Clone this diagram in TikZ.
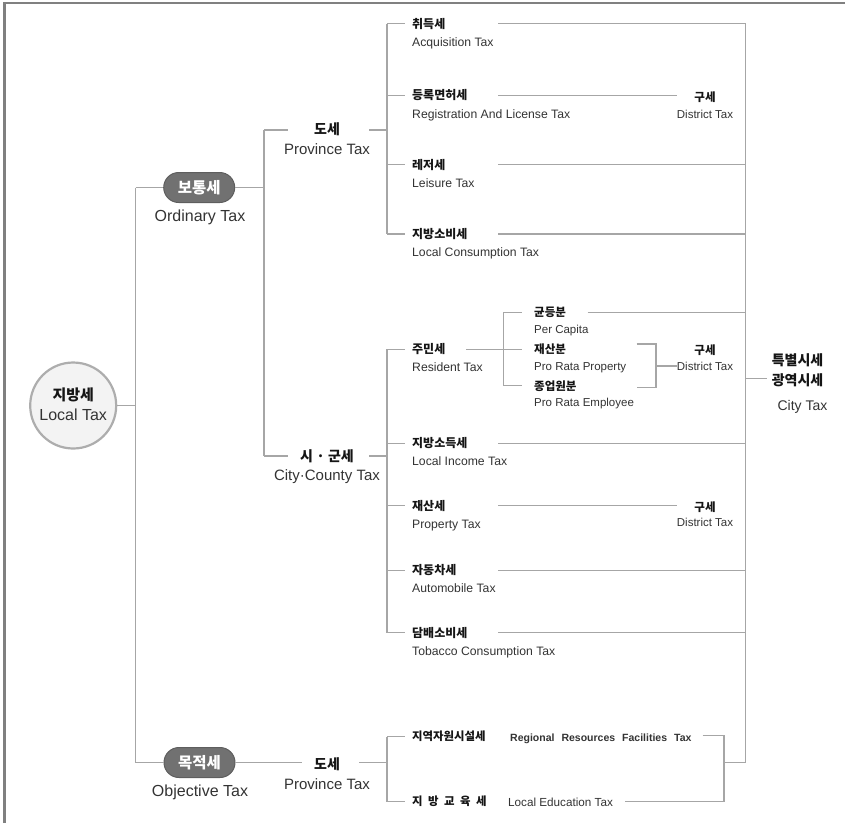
\documentclass[tikz,border=0pt]{standalone}
\usepackage{fontspec}
\setmainfont{Liberation Sans}
\newfontfamily\krf{Noto Sans CJK KR}
\usetikzlibrary{shapes.misc}
\definecolor{lineC}{HTML}{A6A6A6}
\definecolor{frameC}{HTML}{808080}
\definecolor{krC}{HTML}{151515}
\definecolor{enC}{HTML}{333333}
\definecolor{pillC}{HTML}{717171}
\definecolor{pillB}{HTML}{5E5E5E}
\definecolor{circC}{HTML}{F3F3F3}
\definecolor{circB}{HTML}{ADADAD}
\tikzset{
  ln/.style={draw=lineC, line width=1.3pt},
  framel/.style={draw=frameC, line width=2.2pt},
  krl/.style={font=\krf\bfseries\fontsize{12}{14}\selectfont, text=krC, anchor=west, inner sep=0pt},
  enl/.style={font=\fontsize{12.2}{14}\selectfont, text=enC, anchor=base west, inner sep=0pt},
  krs/.style={krl, font=\krf\bfseries\fontsize{11.5}{14}\selectfont},
  ens/.style={enl, font=\fontsize{11.5}{14}\selectfont},
  krc/.style={font=\krf\bfseries\fontsize{11.5}{14}\selectfont, text=krC, inner sep=0pt},
  enc/.style={font=\fontsize{11.5}{14}\selectfont, text=enC, anchor=base, inner sep=0pt},
  krb/.style={font=\krf\bfseries\fontsize{14}{16}\selectfont, text=krC, inner sep=0pt},
  enb/.style={font=\fontsize{15}{17}\selectfont, text=enC, anchor=base, inner sep=0pt},
  pill/.style={rounded rectangle, fill=pillC, draw=pillB, line width=1pt,
    minimum width=71pt, minimum height=30pt, inner sep=0pt, text=white,
    font=\krf\bfseries\fontsize{15.5}{17}\selectfont},
  circ/.style={circle, fill=circC, draw=circB, line width=2.2pt, minimum size=86pt, inner sep=0pt},
}
\begin{document}
\begin{tikzpicture}[x=1pt,y=-1pt]
\useasboundingbox (0,0) rectangle (845,823);
\draw[framel] (4.5,823) -- (4.5,2.7) -- (845,2.7);

% ---------- junction coordinates ----------
\coordinate (T0t) at (135.5,187.5);
\coordinate (T0m) at (135.5,405.5);
\coordinate (T0b) at (135.5,762.5);
\coordinate (T1t) at (264,130);
\coordinate (T1m) at (264,187.5);
\coordinate (T1b) at (264,456);
\coordinate (PX) at (387,0);
\coordinate (RT) at (745.5,0);
\coordinate (RTt) at (745.5,23.6);
\coordinate (RTb) at (745.5,762.5);
\coordinate (do1L) at (288,130);
\coordinate (do1R) at (369,130);
\coordinate (sgL) at (288,456);
\coordinate (sgR) at (369,456);
\coordinate (do2L) at (301.7,762.5);
\coordinate (do2R) at (359.3,762.5);
\coordinate (RBt) at (503.3,312.3);
\coordinate (RBb) at (503.3,385.7);
\coordinate (DBtl) at (636.7,344);
\coordinate (DBt) at (656,344);
\coordinate (DBb) at (656,387.3);
\coordinate (DBbl) at (636.7,387.3);
\coordinate (ctJ) at (766.7,378.3);
\coordinate (OBt) at (724,735.5);
\coordinate (OBm) at (724,762.5);
\coordinate (OBb) at (724,801.7);

% ---------- root ----------
\node[circ] (local) at (73.2,405.5) {};
\node[krb, font=\krf\bfseries\fontsize{15}{17}\selectfont] (localKr) at (73.2,395) {지방세};
\node[enb, font=\fontsize{16}{18}\selectfont] (localEn) at (73.2,420.7) {Local Tax};

% ---------- level 1 ----------
\node[pill] (bot) at (199.2,187.5) {보통세};
\node[enb, font=\fontsize{16}{18}\selectfont] (botEn) at (200,221.7) {Ordinary Tax};
\node[pill] (mok) at (199.5,762.5) {목적세};
\node[enb, font=\fontsize{16}{18}\selectfont] (mokEn) at (200,796) {Objective Tax};

\draw[ln] (local.east) -- (T0m);
\draw[ln] (T0t) -- (T0b);
\draw[ln] (T0t) -- (bot.west);
\draw[ln] (T0b) -- (mok.west);

% ---------- level 2 ----------
\node[krb] (do1) at (327,129.5) {도세};
\node[enb] (do1En) at (327,154) {Province Tax};
\node[krb] (sg) at (327,456.5) {시 · 군세};
\node[enb] (sgEn) at (327,480.5) {City·County Tax};
\node[krb] (do2) at (327,764) {도세};
\node[enb] (do2En) at (327,789) {Province Tax};

\draw[ln] (bot.east) -- (T1m);
\draw[ln] (T1t) -- (T1b);
\draw[ln] (T1t) -- (do1L);
\draw[ln] (do1R) -- (PX |- do1R);
\draw[ln] (T1b) -- (sgL);
\draw[ln] (sgR) -- (PX |- sgR);
\draw[ln] (mok.east) -- (do2L);
\draw[ln] (do2R) -- (PX |- do2R);

% ---------- province tax leaves ----------
\node[krl, text width=86pt] (acq) at (412,23.6) {취득세};
\node[enl] (acqEn) at (412,46.3) {Acquisition Tax};
\node[krl, text width=86pt] (reg) at (412,95.5) {등록면허세};
\node[enl] (regEn) at (412,118) {Registration And License Tax};
\node[krl, text width=86pt] (lei) at (412,164.8) {레저세};
\node[enl] (leiEn) at (412,187.3) {Leisure Tax};
\node[krl, text width=86pt] (lct) at (412,234) {지방소비세};
\node[enl] (lctEn) at (412,256.5) {Local Consumption Tax};

\node[krc] (gu1) at (705,97.6) {구세};
\node[enc] (dt1) at (705,118) {District Tax};

\draw[ln] (PX |- acq.west) -- (PX |- lct.west);
\foreach \n in {acq,reg,lei,lct}{
  \draw[ln] (PX |- \n.west) -- ([xshift=-7pt]\n.west);
}
\draw[ln] (acq.east) -- (acq.east -| RT);
\draw[ln] (reg.east) -- (reg.east -| dt1.west);
\draw[ln] (lei.east) -- (lei.east -| RT);
\draw[ln] (lct.east) -- (lct.east -| RT);

% ---------- city/county tax leaves ----------
\node[krl, text width=54pt] (res) at (412,349.3) {주민세};
\node[enl] (resEn) at (412,371.7) {Resident Tax};
\node[krl, text width=86pt] (inc) at (412,443.3) {지방소득세};
\node[enl] (incEn) at (412,465.8) {Local Income Tax};
\node[krl, text width=86pt] (pro) at (412,505.7) {재산세};
\node[enl] (proEn) at (412,528) {Property Tax};
\node[krl, text width=86pt] (aut) at (412,570.3) {자동차세};
\node[enl] (autEn) at (412,592.5) {Automobile Tax};
\node[krl, text width=86pt] (tob) at (412,632.7) {담배소비세};
\node[enl] (tobEn) at (412,655.5) {Tobacco Consumption Tax};

\node[krs, text width=53.3pt] (per) at (534,312.3) {균등분};
\node[ens] (perEn) at (534,333) {Per Capita};
\node[krs] (prp) at (534,349.3) {재산분};
\node[ens] (prpEn) at (534,370) {Pro Rata Property};
\node[krs] (emp) at (534,385.7) {종업원분};
\node[ens] (empEn) at (534,406.5) {Pro Rata Employee};

\node[krc] (gu2) at (705,350.5) {구세};
\node[enc] (dt2) at (705,370) {District Tax};
\node[krc] (gu3) at (705,506.7) {구세};
\node[enc] (dt3) at (705,526.7) {District Tax};

\draw[ln] (PX |- res.west) -- (PX |- tob.west);
\foreach \n in {res,inc,pro,aut,tob}{
  \draw[ln] (PX |- \n.west) -- ([xshift=-7pt]\n.west);
}
\draw[ln] (res.east) -- ([xshift=-12.3pt]prp.west);
\draw[ln] ([xshift=-12.3pt]per.west) -- (RBt) -- (RBb) -- ([xshift=-12.3pt]emp.west);
\draw[ln] (per.east) -- (per.east -| RT);
\draw[ln] (DBtl) -- (DBt) -- (DBb) -- (DBbl);
\draw[ln] (DBt |- dt2.west) -- (dt2.west);
\draw[ln] (inc.east) -- (inc.east -| RT);
\draw[ln] (pro.east) -- (pro.east -| dt3.west);
\draw[ln] (aut.east) -- (aut.east -| RT);
\draw[ln] (tob.east) -- (tob.east -| RT);

% ---------- objective tax leaves ----------
\node[krs, font=\krf\bfseries\fontsize{11.4}{14}\selectfont] (rrf) at (412,736.5) {지역자원시설세};
\node[enl, font=\bfseries\fontsize{10.5}{14}\selectfont] (rrfEn) at (510,741) {{\spaceskip=7pt Regional Resources Facilities Tax}};
\node[krs, font=\krf\bfseries\fontsize{11.4}{14}\selectfont] (edu) at (412,801.7) {{\spaceskip=5.5pt 지 방 교 육 세}};
\node[enl, font=\fontsize{11.7}{14}\selectfont] (eduEn) at (508,806) {Local Education Tax};

\draw[ln] (PX |- rrf.west) -- (PX |- edu.west);
\draw[ln] (PX |- rrf.west) -- ([xshift=-7pt]rrf.west);
\draw[ln] (PX |- edu.west) -- ([xshift=-7pt]edu.west);
\draw[ln] ([xshift=11pt]rrfEn.east |- OBt) -- (OBt) -- (OBb) -- ([xshift=12pt]eduEn.east |- OBb);
\draw[ln] (OBm) -- (RTb);

% ---------- city tax ----------
\draw[ln] (RTt) -- (RTb);
\node[krb] (ct1) at (797.5,360) {특별시세};
\node[krb] (ct2) at (797.5,380.7) {광역시세};
\node[enb, font=\fontsize{14}{16}\selectfont] (ct3) at (802.5,410.7) {City Tax};
\draw[ln] (RT |- ctJ) -- (ctJ);
\end{tikzpicture}
\end{document}
